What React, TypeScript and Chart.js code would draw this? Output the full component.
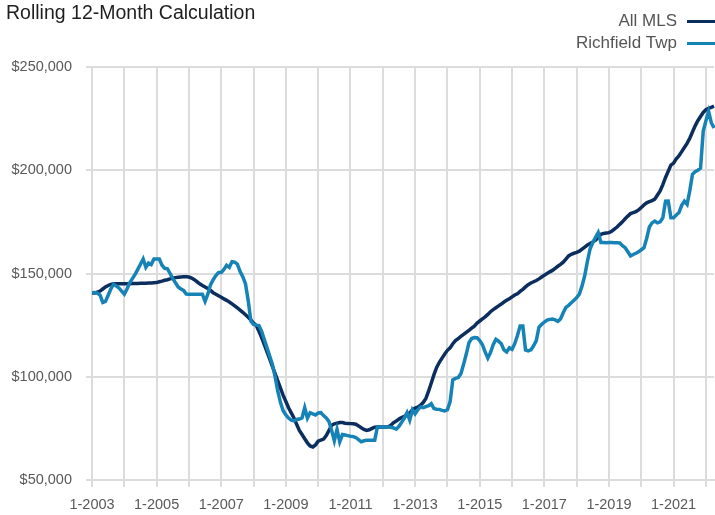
import React, { useEffect, useRef } from 'react';
import { Chart, registerables } from 'chart.js';

Chart.register(...registerables);

const TITLE = 'Rolling 12-Month Calculation';
const SERIES_NAMES = ['All MLS', 'Richfield Twp'];
const SERIES_COLORS = ['#0c2e5e', '#1683b7'];
const START_YEAR = 2003;
const Y_MIN = 50000;
const Y_MAX = 250000;
const Y_STEP = 50000;

// Monthly rolling 12-month median sales price, Jan 2003 - Apr 2022
const allMls = [
  140500, 140500, 141000, 141500, 142500, 143500, 144200, 144700, 145000, 145000, 145000, 145000,
  145000, 145000, 145000, 145200, 145200, 145200, 145300, 145300, 145300, 145400, 145400, 145500,
  145600, 146000, 146300, 146700, 147000, 147400, 147800, 148000, 148200, 148300, 148400, 148400,
  148300, 147800, 147000, 146000, 145000, 144200, 143500, 142700, 141800, 140700, 140000, 139200,
  138500, 137700, 137000, 136200, 135300, 134300, 133300, 132300, 131200, 130000, 128800, 127500,
  126000, 124800, 122000, 119000, 115500, 112000, 108500, 105000, 101500, 98000, 94500, 91000,
  88000, 85000, 82500, 80000, 77000, 74000, 72000, 70000, 68000, 66500, 66000, 67000,
  68800, 69300, 69800, 71500, 74000, 76500, 77200, 77500, 77800, 77800, 77500, 77400,
  77300, 77200, 77000, 76200, 75300, 74500, 74000, 74300, 75000, 75600, 75700, 75700,
  75700, 75700, 75800, 76500, 77800, 78500, 79500, 80200, 80800, 81500, 82500, 84000,
  84800, 85300, 86200, 87500, 89500, 93000, 97000, 101000, 104500, 107000, 109000, 111000,
  112800, 114000, 116000, 117500, 118500, 119500, 120500, 121500, 122500, 123500, 124500, 126000,
  127000, 128000, 129000, 130200, 131500, 132500, 133400, 134300, 135200, 136200, 137000, 137800,
  138700, 139600, 140200, 141300, 142300, 143500, 144600, 145400, 146000, 146600, 147400, 148300,
  149200, 150000, 150800, 151500, 152500, 153500, 154400, 155500, 157000, 158500, 159300, 159800,
  160200, 160800, 161800, 162800, 163800, 164500, 165300, 166200, 167500, 169000, 169400, 169600,
  169800, 170500, 171500, 172500, 173800, 175000, 176500, 177800, 179000, 179500, 180000, 180800,
  182000, 183200, 184200, 184800, 185300, 186000, 188000, 190000, 193000, 196500, 199500, 202500,
  203500, 205500, 207000, 209000, 211000, 213000, 215500, 218500, 221500, 224000, 226000, 228000,
  229300, 230000, 230500, 231000,
];

const richfieldTwp = [
  140700, 140800, 140500, 139500, 136000, 136500, 139500, 142500, 144800, 144000, 143000, 141500,
  140000, 142500, 145500, 147500, 149600, 152000, 154500, 157000, 153000, 155000, 154300, 157000,
  157000, 157000, 154000, 152500, 152300, 150000, 147500, 145500, 143500, 142500, 141800, 140000,
  139900, 139900, 140000, 139900, 139900, 139900, 136500, 140000, 144500, 147000, 149000, 150500,
  150500, 152000, 154000, 153000, 155700, 155500, 154500, 151000, 148500, 145000, 137000, 127000,
  125300, 125000, 124800, 122000, 118000, 114000, 110000, 106000, 100000, 93000, 87500, 83500,
  81500, 80000, 79000, 78600, 79300, 79500, 80000, 85000, 80000, 82600, 82000, 81500,
  82500, 82600, 81200, 80000, 78300, 74000, 69000, 74500, 68500, 72000, 71800, 71500,
  71200, 71000, 70600, 69500, 68500, 69000, 69300, 69300, 69300, 69300, 75700, 75700,
  75700, 75700, 75700, 75500, 75200, 74600, 76000, 78000, 80000, 82600, 79000, 84000,
  82000, 84000, 85400, 85000, 85500, 86000, 87000, 84600, 84300, 84200, 83700, 83400,
  84000, 88000, 98500, 99200, 99600, 101500, 106000, 111000, 116500, 118500, 119000, 118900,
  117500, 115500, 112000, 109000, 111700, 115500, 118100, 117200, 116000, 113000, 112000, 114000,
  113300, 116000, 120000, 124600, 124600, 113000, 112500, 113000, 115000, 117500, 124000, 125400,
  126500, 127400, 127800, 128000, 127500, 126800, 128000, 131000, 133600, 134600, 135800, 137000,
  138300, 140000, 144000, 149000, 156000, 162000, 165000, 167500, 169800, 165000, 165000, 164900,
  165000, 165000, 164900, 164900, 164800, 163500, 162500, 160500, 158500, 159200, 159800, 160500,
  161500, 162500, 167000, 172500, 174500, 175400, 174500, 175000, 177000, 185000, 185100, 177000,
  177000, 178300, 179500, 183000, 185000, 183500, 190000, 198000, 199300, 200000, 201000, 219000,
  224000, 228500, 223000, 220500,
];

const monthLabels: string[] = allMls.map(
  (_, i) => `${(i % 12) + 1}-${START_YEAR + Math.floor(i / 12)}`
);

const FONT = '"Liberation Sans", Arial, Helvetica, sans-serif';
const GRID = '#dcdcdc';

const headerPlugin = {
  id: 'header',
  afterDraw(chart: any) {
    const { ctx } = chart;
    ctx.save();
    ctx.fillStyle = '#1e1e1e';
    ctx.font = `19.5px ${FONT}`;
    ctx.textAlign = 'left';
    ctx.textBaseline = 'alphabetic';
    ctx.fillText(TITLE, 6, 19);

    ctx.font = `17px ${FONT}`;
    ctx.textAlign = 'right';
    chart.data.datasets.forEach((ds: any, i: number) => {
      const base = 26 + i * 22;
      ctx.fillStyle = '#555555';
      ctx.fillText(ds.label, 677, base);
      ctx.beginPath();
      ctx.strokeStyle = ds.borderColor;
      ctx.lineWidth = 3;
      ctx.moveTo(687, base - 4.5);
      ctx.lineTo(716, base - 4.5);
      ctx.stroke();
    });
    ctx.restore();
  },
};

export default function App() {
  const canvasRef = useRef<HTMLCanvasElement | null>(null);

  useEffect(() => {
    const canvas = canvasRef.current;
    if (!canvas) return;
    const chart = new Chart(canvas, {
      type: 'line',
      data: {
        labels: monthLabels,
        datasets: [
          {
            label: SERIES_NAMES[0],
            data: allMls,
            borderColor: SERIES_COLORS[0],
            backgroundColor: SERIES_COLORS[0],
            borderWidth: 3.5,
            pointRadius: 0,
            tension: 0,
            order: 1,
          },
          {
            label: SERIES_NAMES[1],
            data: richfieldTwp,
            borderColor: SERIES_COLORS[1],
            backgroundColor: SERIES_COLORS[1],
            borderWidth: 3.5,
            pointRadius: 0,
            tension: 0,
            order: 0,
          },
        ],
      },
      options: {
        animation: false,
        responsive: false,
        layout: { padding: { top: 67, right: 1, left: 0, bottom: 0 } },
        plugins: {
          legend: { display: false },
          title: { display: false },
          tooltip: { enabled: false },
        },
        scales: {
          x: {
            type: 'category',
            offset: false,
            grid: {
              color: (c: any) => (c.index % 12 === 0 ? GRID : 'rgba(0,0,0,0)'),
              lineWidth: 2,
              tickLength: 7,
            },
            border: { color: GRID, width: 2 },
            ticks: {
              autoSkip: false,
              maxRotation: 0,
              minRotation: 0,
              padding: 9,
              color: '#595959',
              font: { family: FONT, size: 14.5 },
              callback: function (this: any, val: any, idx: number) {
                return idx % 24 === 0 ? this.getLabelForValue(val) : '';
              },
            },
            afterFit: (scale: any) => {
              scale.height = 35;
              scale.paddingRight = 0;
            },
          },
          y: {
            min: Y_MIN,
            max: Y_MAX,
            grid: { color: GRID, lineWidth: 2, tickLength: 6 },
            border: { color: GRID, width: 2 },
            ticks: {
              stepSize: Y_STEP,
              padding: 14,
              color: '#595959',
              font: { family: FONT, size: 14.5 },
              callback: (v: any) => '$' + Number(v).toLocaleString('en-US'),
            },
            afterFit: (scale: any) => {
              scale.width = 92;
            },
          },
        },
      },
      plugins: [headerPlugin],
    });
    return () => chart.destroy();
  }, []);

  return (
    <div style={{ position: 'fixed', left: 0, top: 0, width: 715, height: 515, background: '#fff' }}>
      <canvas ref={canvasRef} width={715} height={515} style={{ display: 'block' }} />
    </div>
  );
}
